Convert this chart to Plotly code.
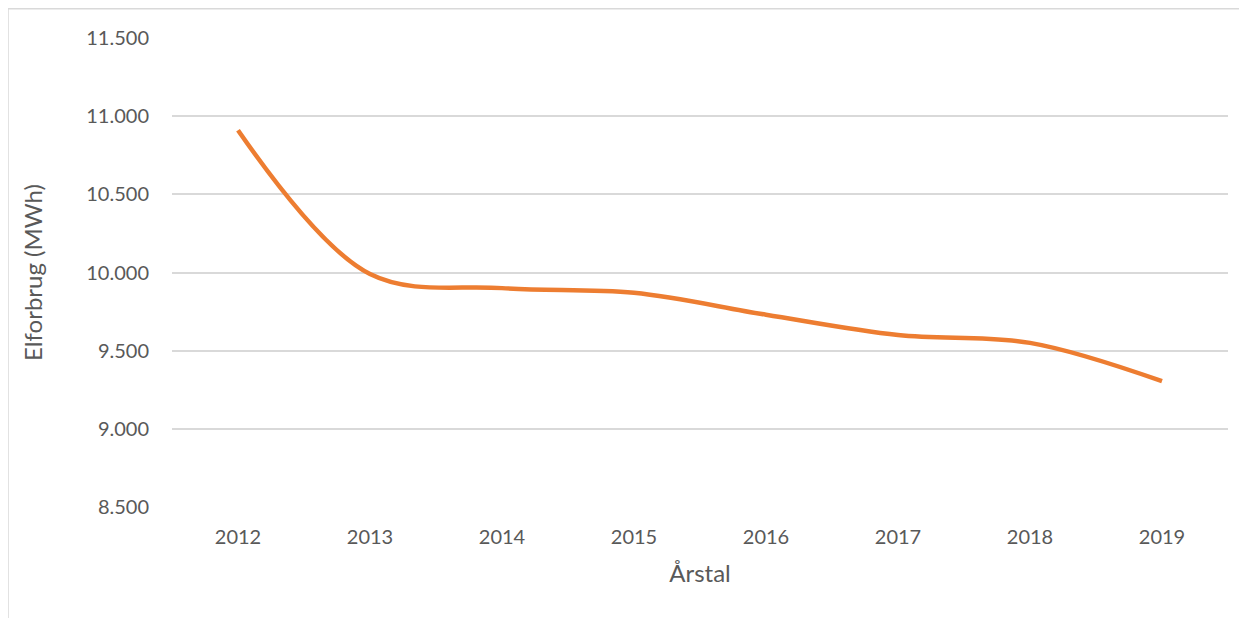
import plotly.graph_objects as go

years = ["2012", "2013", "2014", "2015", "2016", "2017", "2018", "2019"]
elforbrug = [10910, 9990, 9900, 9870, 9730, 9600, 9550, 9305]
y_ticks = [8500, 9000, 9500, 10000, 10500, 11000, 11500]

# page has an 8px body margin; figure placed at (8, 8)
OFF = 8
W, H = 1247 - OFF, 618 - OFF
L, R, T, B = 172 - OFF, 19, 38 - OFF, 111
pw, ph = W - L - R, H - T - B

fig = go.Figure()
fig.add_trace(go.Scatter(
    x=years, y=elforbrug, mode="lines",
    line=dict(color="#ED7D31", width=4.5, shape="spline", smoothing=1.0),
    hoverinfo="x+y", showlegend=False,
))

font_fam = "Lato, 'Open Sans', sans-serif"
fig.update_layout(
    width=W, height=H,
    margin=dict(l=L, r=R, t=T, b=B, pad=0),
    paper_bgcolor="white", plot_bgcolor="white",
    separators=",.",
    font=dict(family=font_fam, size=20, color="#595959"),
    xaxis=dict(
        type="category", range=[-0.5, 7.5],
        showgrid=False, showline=False, zeroline=False, ticks="",
        ticklabelstandoff=16,
        title=dict(text="Årstal", font=dict(size=24, color="#595959"), standoff=18),
    ),
    yaxis=dict(
        range=[8500, 11500], tickvals=y_ticks, tickformat=",d",
        showgrid=True, gridcolor="#D9D9D9", gridwidth=1.5,
        showline=False, zeroline=False, ticks="",
        ticklabelstandoff=22,
        title=dict(text="Elforbrug (MWh)", font=dict(size=24, color="#595959"), standoff=36),
    ),
    shapes=[dict(
        type="rect", xref="paper", yref="paper",
        x0=(0 - L) / pw, x1=(W + 20 - L) / pw,
        y0=(T + ph - (H + 20)) / ph, y1=(T + ph - 0.75) / ph,
        line=dict(color="#D9D9D9", width=1.5), fillcolor="rgba(0,0,0,0)", layer="below",
    )],
)

fig.write_html("out.html")
